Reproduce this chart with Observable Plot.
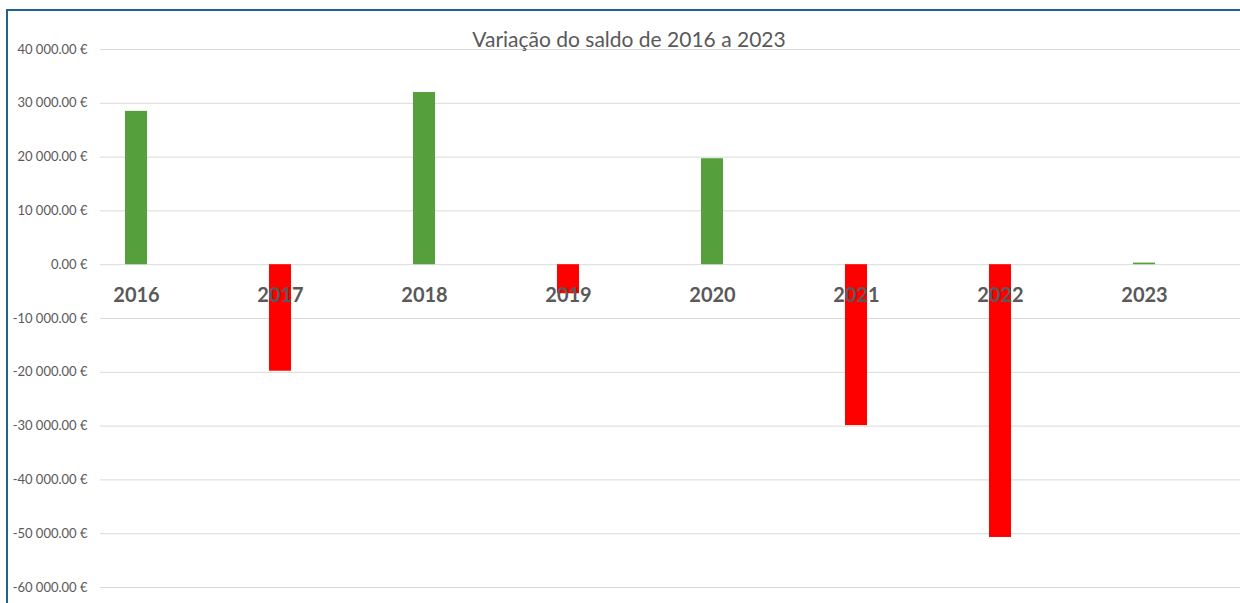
<!DOCTYPE html>
<html>
<head>
<meta charset="utf-8">
<script src="https://cdn.jsdelivr.net/npm/d3@7"></script>
<script src="https://cdn.jsdelivr.net/npm/@observablehq/plot@0.6"></script>
<style>
  html, body { margin: 0; padding: 0; background: #fff; overflow: hidden; }
  #page { position: relative; width: 1240px; height: 603px; overflow: hidden; }
  #frame { position: absolute; left: 6px; top: 9px; width: 1400px; height: 800px;
           border-left: 2px solid #1f6391; border-top: 2px solid #1f6391; box-sizing: border-box; }
  #title { position: absolute; left: 0; width: 1258px; top: 26px; text-align: center;
           font-family: Lato, "Open Sans", sans-serif; font-size: 21px; color: #595959; }
  #chart { position: absolute; left: 0; top: 0; }
</style>
</head>
<body>
<div id="page">
  <div id="frame"></div>
  <div id="chart"></div>
  <div id="title">Variação do saldo de 2016 a 2023</div>
</div>
<script>
const years = ["2016", "2017", "2018", "2019", "2020", "2021", "2022", "2023"];
const values = [28500, -19800, 32000, -5400, 19700, -29900, -50700, 300];
const yTicks = [40000, 30000, 20000, 10000, 0, -10000, -20000, -30000, -40000, -50000, -60000];

const data = years.map((year, i) => ({year, value: values[i]}));
const fmt = v => d3.format(",.2f")(v).replace(/,/g, " ").replace("−", "-") + " €";

const chart = Plot.plot({
  width: 1240,
  height: 603,
  marginTop: 49,
  marginBottom: 16,
  marginLeft: 100,
  marginRight: 0,
  style: {fontFamily: "Lato, 'Open Sans', sans-serif", fontSize: "13px", color: "#595959", background: "transparent"},
  x: {domain: years, range: [64, 1216], paddingInner: 0.847, paddingOuter: 0.4235, round: false, axis: null},
  y: {domain: [-60000, 40000], label: null, axis: null},
  color: {type: "identity"},
  marks: [
    Plot.gridY(yTicks, {stroke: "#d9d9d9", strokeOpacity: 1, strokeWidth: 1}),
    Plot.axisY(yTicks, {tickSize: 0, tickPadding: 13, tickFormat: fmt, fill: "#595959", fontSize: 13, label: null}),
    Plot.barY(data, {x: "year", y: "value", fill: d => d.value >= 0 ? "#55a03c" : "#ff0000"}),
    Plot.text(data, {x: "year", y: () => 0, text: "year", dy: 31, fill: "#595959",
                     fontSize: 20, fontWeight: "bold", fontFamily: "Lato, 'Open Sans', sans-serif"})
  ]
});
document.getElementById("chart").appendChild(chart);
</script>
</body>
</html>
